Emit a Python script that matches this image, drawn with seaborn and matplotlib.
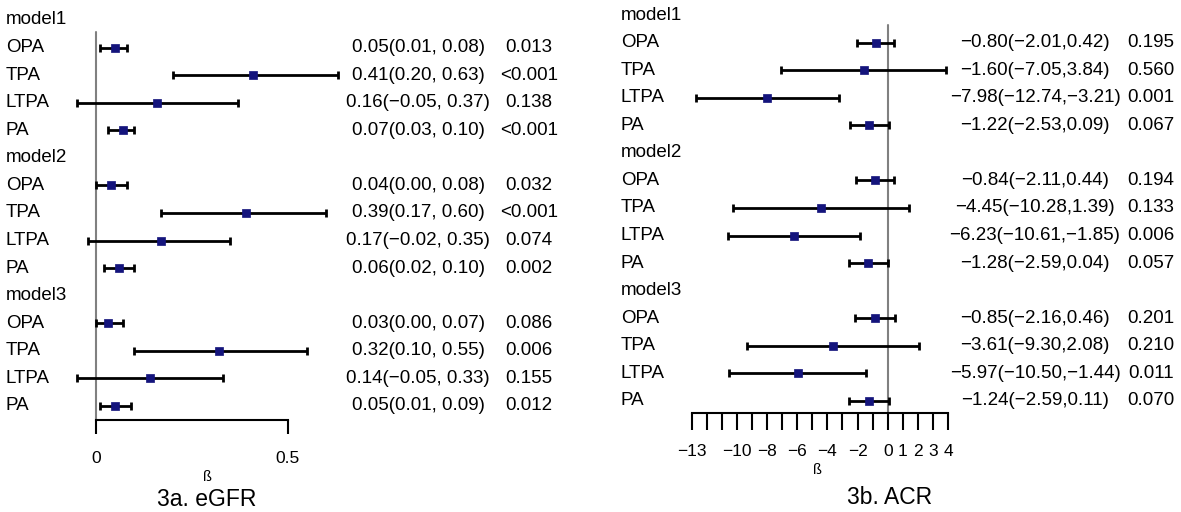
import matplotlib
matplotlib.use("Agg")
import matplotlib.pyplot as plt
import matplotlib.transforms as mtransforms
import numpy as np
import pandas as pd
import seaborn as sns

# data
models = ["model1", "model2", "model3"]
exposures = ["OPA", "TPA", "LTPA", "PA"]

egfr_beta = [0.05, 0.41, 0.16, 0.07, 0.04, 0.39, 0.17, 0.06, 0.03, 0.32, 0.14, 0.05]
egfr_lo = [0.01, 0.20, -0.05, 0.03, 0.00, 0.17, -0.02, 0.02, 0.00, 0.10, -0.05, 0.01]
egfr_hi = [0.08, 0.63, 0.37, 0.10, 0.08, 0.60, 0.35, 0.10, 0.07, 0.55, 0.33, 0.09]
egfr_p = ["0.013", "<0.001", "0.138", "<0.001", "0.032", "<0.001", "0.074", "0.002",
          "0.086", "0.006", "0.155", "0.012"]

acr_beta = [-0.80, -1.60, -7.98, -1.22, -0.84, -4.45, -6.23, -1.28, -0.85, -3.61, -5.97, -1.24]
acr_lo = [-2.01, -7.05, -12.74, -2.53, -2.11, -10.28, -10.61, -2.59, -2.16, -9.30, -10.50, -2.59]
acr_hi = [0.42, 3.84, -3.21, 0.09, 0.44, 1.39, -1.85, 0.04, 0.46, 2.08, -1.44, 0.11]
acr_p = ["0.195", "0.560", "0.001", "0.067", "0.194", "0.133", "0.006", "0.057",
         "0.201", "0.210", "0.011", "0.070"]

egfr_ticks = [0, 0.5]
acr_ticks = list(range(-13, 5))
acr_tick_labels = ["-13", "", "", "-10", "", "-8", "", "-6", "", "-4", "", "-2", "", "0", "1", "2", "3", "4"]

sns.set_theme(style="white")
plt.rcParams["font.family"] = ["Liberation Sans", "DejaVu Sans"]
plt.rcParams["axes.unicode_minus"] = True
plt.rcParams["text.color"] = "black"
plt.rcParams["xtick.color"] = "black"
plt.rcParams["xtick.labelcolor"] = "black"

W, H = 1181, 512
fig = plt.figure(figsize=(W / 100, H / 100), dpi=100)
fig.patch.set_facecolor("white")

FS = 13.5
NAVY = "#14147c"


def make_df(beta, lo, hi):
    rows = []
    for m in range(len(models)):
        for e in range(len(exposures)):
            k = m * 4 + e
            rows.append({"row": m * 5 + e + 1, "beta": beta[k], "lo": lo[k], "hi": hi[k]})
    return pd.DataFrame(rows)


def forest(ax, df, pvals, ci_fmt, label_x, ci_x, p_x, zero_top):
    ax.axvline(0, ymin=0, ymax=zero_top, color="#808080", lw=1.5, zorder=1)
    ax.errorbar(df["beta"], df["row"], xerr=[df["beta"] - df["lo"], df["hi"] - df["beta"]],
                fmt="none", ecolor="black", elinewidth=2, capsize=3, capthick=2, zorder=2)
    sns.scatterplot(data=df, x="beta", y="row", marker="s", color=NAVY, s=40,
                    edgecolor=NAVY, linewidth=0.5, ax=ax, zorder=3)
    tr = mtransforms.blended_transform_factory(fig.transFigure, ax.transData)
    for m, name in enumerate(models):
        ax.text(label_x / W, m * 5, name, transform=tr, ha="left", va="center", fontsize=FS)
        for e, ex in enumerate(exposures):
            k = m * 4 + e
            r = m * 5 + e + 1
            ax.text(label_x / W, r, ex, transform=tr, ha="left", va="center", fontsize=FS)
            txt = ci_fmt.format(df["beta"][k], df["lo"][k], df["hi"][k]).replace("-", "\u2212")
            ax.text(ci_x / W, r, txt, transform=tr, ha="center", va="center", fontsize=FS)
            ax.text(p_x / W, r, pvals[k], transform=tr, ha="center", va="center", fontsize=FS)
    for s in ["top", "left", "right"]:
        ax.spines[s].set_visible(False)
    ax.spines["bottom"].set_color("black")
    ax.spines["bottom"].set_linewidth(1.5)
    ax.set_yticks([])
    ax.set_xlabel("")
    ax.set_ylabel("")
    ax.set_facecolor("none")


# left panel: eGFR
ax1 = fig.add_axes([0, (H - 420) / H, 590 / W, 420 / H])
forest(ax1, make_df(egfr_beta, egfr_lo, egfr_hi), egfr_p, "{:.2f}({:.2f}, {:.2f})",
       6, 418, 529, (420 - 32) / 420)
ax1.set_xlim(-96 / 383.4, (590 - 96) / 383.4)
ax1.set_ylim((420 - 20) / 27.57, -20 / 27.57)
ax1.spines["bottom"].set_bounds(0, 0.5)
ax1.set_xticks(egfr_ticks)
ax1.set_xticklabels(["0", "0.5"])
ax1.tick_params(axis="x", direction="out", length=10, width=1.5, pad=12,
                labelsize=12.5, bottom=True, color="black", labelcolor="black")
fig.text(207 / W, 1 - 477 / H, "ß", ha="center", va="center", fontsize=10.5)
fig.text(207 / W, 1 - 499 / H, "3a. eGFR", ha="center", va="center", fontsize=16.5)

# right panel: ACR
ax2 = fig.add_axes([600 / W, (H - 413) / H, 581 / W, 413 / H])
forest(ax2, make_df(acr_beta, acr_lo, acr_hi), acr_p, "{:.2f}({:.2f},{:.2f})",
       621, 1035, 1151, (413 - 25) / 413)
ax2.set_xlim((600 - 887.7) / 15.08, (1181 - 887.7) / 15.08)
ax2.set_ylim((413 - 15) / 27.57, -15 / 27.57)
ax2.spines["bottom"].set_bounds(-13, 4)
ax2.set_xticks(acr_ticks)
ax2.set_xticklabels([t.replace("-", "\u2212") for t in acr_tick_labels])
ax2.tick_params(axis="x", direction="out", length=12, width=1.5, pad=10,
                labelsize=12.5, bottom=True, color="black", labelcolor="black")
fig.text(817 / W, 1 - 470 / H, "ß", ha="center", va="center", fontsize=10.5)
fig.text(890 / W, 1 - 498 / H, "3b. ACR", ha="center", va="center", fontsize=16.5)

fig.savefig("out.png", dpi=100, facecolor="white")
